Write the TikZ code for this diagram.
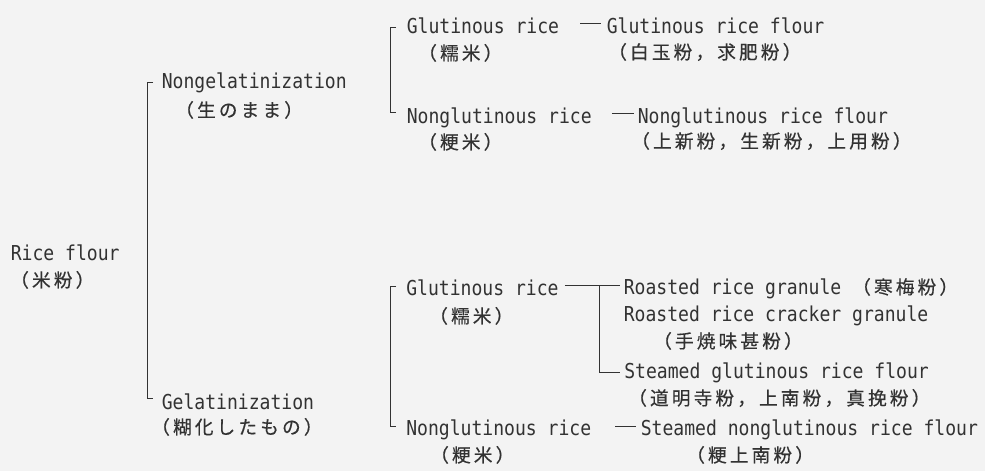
\documentclass[tikz,border=0pt]{standalone}
\usepackage{fontspec}
\usetikzlibrary{calc}
\newfontfamily\latfnt[FakeStretch=0.88]{DejaVu Sans Mono}
\newfontfamily\jpfnt[LetterSpace=16.8,FakeBold=0.4]{Noto Sans CJK JP}
\definecolor{bgc}{RGB}{243,243,243}
\definecolor{inkc}{RGB}{50,50,50}
\newcommand\jpsize{\jpfnt\fontsize{14}{16}\selectfont}
\tikzset{
  lat/.style={inner sep=0pt, anchor=base west, text=inkc, font=\latfnt\fontsize{15.4}{18}\selectfont},
  jap/.style={inner sep=0pt, anchor=base west, text=inkc, font=\jpsize},
  conn/.style={draw=inkc, line width=0.6pt}
}
\begin{document}
\begin{tikzpicture}[x=0.75pt, y=-0.75pt]
\fill[bgc] (0,0) rectangle (985,471);
\useasboundingbox (0,0) rectangle (985,471);

% root
\node[lat] (rf)  at (10.5,260) {Rice flour};
\node[jap] (rfj) at (10,287) {（米粉）};

% level 1
\node[lat] (ng)  at (161.5,88) {Nongelatinization};
\node[jap] (ngj) at (175,117) {（生のまま）};
\node[lat] (ge)  at (161.5,409) {Gelatinization};
\node[jap] (gej) at (151,434) {（糊化したもの）};

% upper group
\node[lat] (g1)  at (406.5,33) {Glutinous rice};
\node[jap] (g1j) at (418,60) {（糯米）};
\node[lat] (gf)  at (606.5,33) {Glutinous rice flour};
\node[jap] (gfj) at (608,59) {（白玉粉，求肥粉）};
\node[lat] (n1)  at (406.5,123) {Nonglutinous rice};
\node[jap] (n1j) at (418,149) {（粳米）};
\node[lat] (nf)  at (637.5,123) {Nonglutinous rice flour};
\node[jap] (nfj) at (631,148) {（上新粉，生新粉，上用粉）};

% lower group
\node[lat] (g2)  at (406,295) {Glutinous rice};
\node[jap] (g2j) at (429,323) {（糯米）};
\node[lat] (r1)  at (623.5,294) {Roasted rice granule {\jpsize （寒梅粉）}};
\node[lat] (r2)  at (623.5,321) {Roasted rice cracker granule};
\node[jap] (r2j) at (653,348) {（手焼味甚粉）};
\node[lat] (s1)  at (624,378) {Steamed glutinous rice flour};
\node[jap] (s1j) at (628,405) {（道明寺粉，上南粉，真挽粉）};
\node[lat] (n2)  at (406,435) {Nonglutinous rice};
\node[jap] (n2j) at (430,462) {（粳米）};
\node[lat] (s2)  at (640.5,435) {Steamed nonglutinous rice flour};
\node[jap] (s2j) at (686,462) {（粳上南粉）};

% connectors
\draw[conn] ($(ng.base west)+(-8.5,-6)$) -- ($(ng.base west)+(-14.5,-6)$)
            -- ($(ge.base west)+(-14.5,-11)$) -- ($(ge.base west)+(-8.5,-11)$);
\draw[conn] ($(g1.base west)+(-10.5,-6)$) -- ($(g1.base west)+(-16.5,-6)$)
            -- ($(n1.base west)+(-16.5,-11)$) -- ($(n1.base west)+(-10.5,-11)$);
\draw[conn] ($(g2.base west)+(-10,-9)$) -- ($(g2.base west)+(-16,-9)$)
            -- ($(n2.base west)+(-16,-9)$) -- ($(n2.base west)+(-10,-9)$);
\draw[conn] ($(g1.base east)+(21,-10)$) -- ($(gf.base west)+(-5.5,-10)$);
\draw[conn] ($(n1.base east)+(20,-10)$) -- ($(nf.base west)+(-3.5,-10)$);
\draw[conn] ($(g2.base east)+(6,-9.5)$) -- ($(r1.base west)+(-3.5,-8.5)$);
\draw[conn] ($(r1.base west)+(-24.5,-8.5)$) |- ($(s1.base west)+(-4,-6)$);
\draw[conn] ($(n2.base east)+(24,-9)$) -- ($(s2.base west)+(-4.5,-9)$);
\end{tikzpicture}
\end{document}
